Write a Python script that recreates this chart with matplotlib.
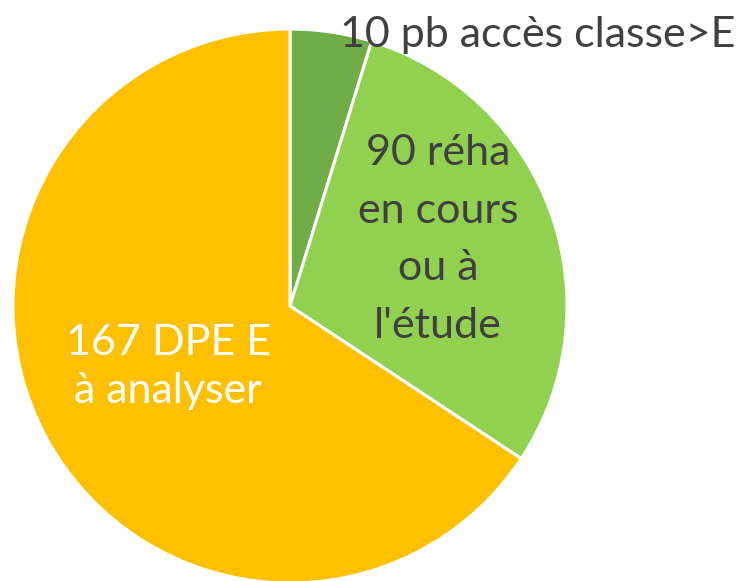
import matplotlib
matplotlib.use("Agg")
import matplotlib.pyplot as plt

# Slice sizes as drawn in the picture (angles measured), labels as written
values = [10, 62, 138]
colors = ["#70AD47", "#92D050", "#FFC000"]
label_top = ["10 pb accès classe>E"]
label_mid = ["90 réha", "en cours", "ou à", "l'étude"]
label_low = ["167 DPE E", "à analyser"]

W, H = 744, 581
fig = plt.figure(figsize=(W/100, H/100), dpi=100)
cx, cy, r = 290, 306, 277
ax = fig.add_axes([(cx - r)/W, (H - cy - r)/H, 2*r/W, 2*r/H])
ax.pie(values, colors=colors, startangle=90, counterclock=False, radius=1,
       wedgeprops=dict(edgecolor="white", linewidth=2.2))
ax.set_xlim(-1, 1)
ax.set_ylim(-1, 1)
ax.axis("off")

def px(x, y):
    return (x - cx)/r, (cy - y)/r

fs = 31
font = "Lato"
dark = "#404040"

def put(lines, x, y0, step, color):
    for i, s in enumerate(lines):
        ax.text(*px(x, y0 + i*step), s, ha="center", va="baseline", fontsize=fs,
                color=color, family=font, clip_on=False)

put(label_top, 538, 47, 0, dark)
put(label_mid, 438, 165, 57.6, dark)
put(label_low, 168, 355, 48, "white")

fig.savefig("out.png", dpi=100)
